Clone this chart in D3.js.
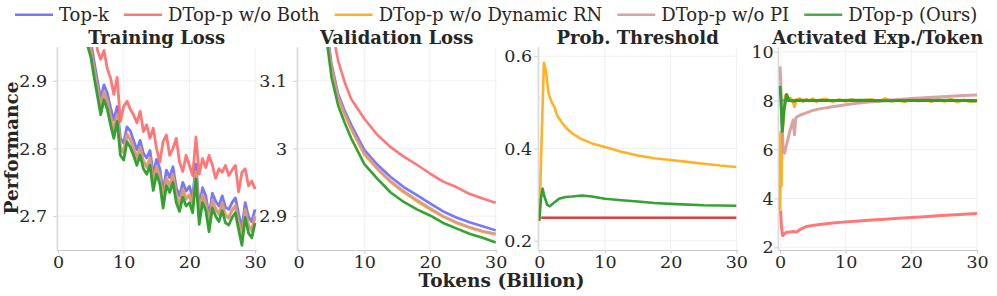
<!DOCTYPE html>
<html>
<head>
<meta charset="utf-8">
<script src="https://cdn.jsdelivr.net/npm/d3@7"></script>
<style>
  body { margin: 0; background: #fff; }
  text { font-family: "DejaVu Serif", serif; fill: #262626; }
</style>
</head>
<body>
<svg id="chart" width="997" height="296"></svg>
<script>
// series in legend order
const seriesNames = ['Top-k', 'DTop-p w/o Both', 'DTop-p w/o Dynamic RN', 'DTop-p w/o PI', 'DTop-p (Ours)'];
const seriesColors = ['#5f5fff', '#ff5f5f', '#ffa500', '#d49494', '#2a9d2a'];

// training loss (tokens in billions)
const trainX = [4.5,5,5.5,6,6.5,7,7.5,8,8.5,9,9.5,10,10.5,11,11.5,12,12.5,13,13.5,14,14.5,15,15.5,16,16.5,17,17.5,18,18.5,19,19.5,20,20.5,21,21.5,22,22.5,23,23.5,24,24.5,25,25.5,26,26.5,27,27.5,28,28.5,29,29.5,30];
const trainTopK = [2.975,2.958,2.928,2.900,2.874,2.894,2.882,2.860,2.842,2.862,2.815,2.808,2.832,2.826,2.812,2.798,2.812,2.793,2.786,2.797,2.762,2.784,2.770,2.736,2.768,2.757,2.773,2.742,2.730,2.750,2.737,2.744,2.728,2.777,2.712,2.742,2.730,2.700,2.734,2.722,2.715,2.730,2.713,2.710,2.720,2.727,2.703,2.682,2.720,2.699,2.692,2.710];
const trainNoBoth = [3.050,3.020,2.990,2.945,2.932,2.945,2.918,2.904,2.880,2.905,2.840,2.862,2.870,2.858,2.850,2.838,2.855,2.825,2.835,2.815,2.830,2.800,2.780,2.810,2.820,2.790,2.800,2.815,2.780,2.766,2.790,2.775,2.760,2.817,2.762,2.785,2.772,2.790,2.775,2.756,2.770,2.765,2.775,2.760,2.768,2.775,2.736,2.765,2.770,2.745,2.752,2.740];
const trainNoRN = [2.965,2.947,2.917,2.890,2.862,2.884,2.870,2.848,2.828,2.851,2.803,2.795,2.822,2.814,2.801,2.787,2.802,2.782,2.774,2.786,2.750,2.774,2.759,2.724,2.757,2.746,2.762,2.731,2.719,2.740,2.727,2.732,2.717,2.766,2.700,2.732,2.720,2.689,2.724,2.712,2.704,2.720,2.702,2.699,2.710,2.716,2.692,2.669,2.710,2.687,2.680,2.701];
const trainNoPI = [2.963,2.945,2.915,2.888,2.860,2.882,2.868,2.846,2.826,2.849,2.801,2.793,2.820,2.812,2.799,2.785,2.800,2.780,2.772,2.784,2.748,2.772,2.757,2.722,2.755,2.744,2.760,2.729,2.717,2.738,2.725,2.730,2.715,2.764,2.698,2.730,2.718,2.687,2.722,2.710,2.702,2.718,2.700,2.697,2.708,2.714,2.690,2.667,2.708,2.685,2.678,2.699];
const trainOurs = [2.952,2.935,2.905,2.878,2.850,2.872,2.858,2.835,2.815,2.840,2.790,2.783,2.810,2.802,2.790,2.775,2.790,2.770,2.762,2.775,2.738,2.762,2.748,2.712,2.745,2.735,2.750,2.720,2.707,2.728,2.715,2.720,2.705,2.755,2.688,2.720,2.708,2.677,2.712,2.700,2.692,2.708,2.690,2.687,2.698,2.705,2.680,2.657,2.698,2.675,2.668,2.690];

// validation loss
const valX = [4,5,6,7,8,10,12,14,16,18,20,22,24,26,28,30];
const valTopK = [3.200,3.125,3.081,3.056,3.035,2.998,2.976,2.958,2.943,2.931,2.919,2.907,2.898,2.891,2.885,2.879];
const valNoBoth = [3.260,3.180,3.130,3.098,3.073,3.044,3.020,3.002,2.988,2.976,2.963,2.951,2.943,2.933,2.926,2.920];
const valNoRN = [3.190,3.118,3.075,3.050,3.028,2.991,2.969,2.950,2.935,2.922,2.910,2.899,2.890,2.883,2.877,2.873];
const valNoPI = [3.192,3.120,3.077,3.052,3.030,2.993,2.971,2.952,2.937,2.924,2.912,2.900,2.891,2.884,2.878,2.874];
const valOurs = [3.180,3.105,3.064,3.038,3.015,2.977,2.955,2.935,2.921,2.910,2.901,2.890,2.882,2.874,2.868,2.861];

// probability threshold
const thrFixedX = [0.3, 30];
const thrNoBoth = [0.25, 0.25];
const thrNoPI = [0.25, 0.25];
const thrNoRNX = [0,0.7,1.0,1.4,1.9,2.3,2.7,3.5,4.2,5,6.2,8,10,12.5,15,17.5,20,22.5,25,27.5,30];
const thrNoRN = [0.245,0.586,0.570,0.520,0.500,0.490,0.472,0.455,0.443,0.433,0.422,0.411,0.403,0.393,0.385,0.379,0.375,0.371,0.367,0.363,0.360];
const thrOursX = [0,0.25,0.5,0.8,1.2,1.6,2.2,3,4,5,6.5,8,10,12.5,15,17.5,20,25,30];
const thrOurs = [0.243,0.290,0.313,0.295,0.278,0.275,0.282,0.291,0.295,0.296,0.298,0.296,0.291,0.288,0.285,0.282,0.280,0.277,0.276];

// activated experts per token
const actTopKX = [0, 30];
const actTopK = [8, 8];
const actNoBothX = [0.1,0.2,0.4,0.7,1,1.5,2,2.5,3,4,6,8,10,12,14,16,18,20,22,24,26,28,30];
const actNoBoth = [3.50,2.90,2.48,2.55,2.62,2.63,2.65,2.62,2.72,2.85,2.93,2.99,3.04,3.08,3.12,3.15,3.19,3.22,3.25,3.29,3.32,3.35,3.38];
const actNoRNX = [0,0.1,0.2,0.3,0.5,0.8,1,1.3,1.6,2,2.2,2.5,3,3.5,4,4.5,5,5.5,6,7,8,9,10,11,12,13,14,15,16,17,18,19,20,21,22,23,24,25,26,27,28,29,30];
const actNoRN = [3.5,6.7,4.5,6.5,7.2,8.2,8.15,8.05,8.1,7.95,7.75,8.05,8.08,7.95,8.05,7.98,8.08,7.95,8.02,8.06,7.96,8.04,7.97,8.05,7.95,8.02,8.04,7.96,8.08,7.97,8.03,7.95,8.05,7.98,8.04,7.96,8.03,7.97,8.05,7.95,8.02,7.96,7.98];
const actNoPIX = [0,0.1,0.3,0.5,0.7,1,1.5,2,2.2,2.4,3,4,5,6,8,10,12,14,16,18,20,22,24,26,28,30];
const actNoPI = [9.4,8.8,7.0,5.9,5.85,6.2,6.75,7.2,6.6,7.3,7.4,7.5,7.6,7.66,7.75,7.83,7.9,7.95,8.0,8.04,8.08,8.11,8.15,8.18,8.21,8.23];
const actOursX = [0,0.15,0.35,0.6,1.0,1.4,2,3,5,8,12,16,20,25,30];
const actOurs = [8.6,8.0,6.75,7.6,8.25,8.0,7.98,8.01,8.0,8.0,8.01,7.99,8.0,8.01,7.99];

const xTicks = [0, 10, 20, 30];

const panels = [
  { title: 'Training Loss', xDomain: [-0.2, 30.25], yDomain: [2.65, 2.95], yTicks: [2.7, 2.8, 2.9], fmt: d3.format('.1f'), pad: 6,
    series: [[0, trainX, trainTopK], [1, trainX, trainNoBoth], [2, trainX, trainNoRN], [3, trainX, trainNoPI], [4, trainX, trainOurs]] },
  { title: 'Validation Loss', xDomain: [-0.3, 30.15], yDomain: [2.85, 3.15], yTicks: [2.9, 3.0, 3.1], fmt: d => d === 3 ? '3' : d3.format('.1f')(d), pad: 6,
    series: [[0, valX, valTopK], [1, valX, valNoBoth], [2, valX, valNoRN], [3, valX, valNoPI], [4, valX, valOurs]] },
  { title: 'Prob. Threshold', xDomain: [-0.24, 30.21], yDomain: [0.18, 0.62], yTicks: [0.2, 0.4, 0.6], fmt: d3.format('.1f'), pad: 2,
    series: [[1, thrFixedX, thrNoBoth], [3, thrFixedX, thrNoPI, 'multiply'], [2, thrNoRNX, thrNoRN], [4, thrOursX, thrOurs]] },
  { title: 'Activated Exp./Token', xDomain: [-0.35, 30.1], yDomain: [1.89, 10.19], yTicks: [2, 4, 6, 8, 10], fmt: d3.format('d'), pad: 0.5,
    series: [[0, actTopKX, actTopK], [1, actNoBothX, actNoBoth], [2, actNoRNX, actNoRN], [3, actNoPIX, actNoPI], [4, actOursX, actOurs]] }
];

const plotTop = 47, plotBottom = 250, plotW = 200;
const panelLeft = [56.7, 296.7, 537.7, 777.7];
const svg = d3.select('#chart');
const defs = svg.append('defs');

panels.forEach((p, i) => {
  const x = d3.scaleLinear().domain(p.xDomain).range([panelLeft[i], panelLeft[i] + plotW]);
  const y = d3.scaleLinear().domain(p.yDomain).range([plotBottom, plotTop]);
  const g = svg.append('g');

  // grid
  g.selectAll('line.gx').data(xTicks).join('line').attr('class', 'gx')
    .attr('x1', d => x(d)).attr('x2', d => x(d)).attr('y1', plotTop).attr('y2', plotBottom)
    .attr('stroke', '#f0f0f0').attr('stroke-width', 1);
  g.selectAll('line.gy').data(p.yTicks).join('line').attr('class', 'gy')
    .attr('x1', panelLeft[i]).attr('x2', panelLeft[i] + plotW).attr('y1', d => y(d)).attr('y2', d => y(d))
    .attr('stroke', '#f0f0f0').attr('stroke-width', 1);

  defs.append('clipPath').attr('id', 'clip' + i).append('rect')
    .attr('x', panelLeft[i]).attr('y', plotTop).attr('width', plotW).attr('height', plotBottom - plotTop);

  const line = d3.line().x(d => x(d[0])).y(d => y(d[1]));
  const lg = g.append('g').attr('clip-path', `url(#clip${i})`);
  p.series.forEach(([s, xs, ys, blend]) => {
    const path = lg.append('path')
      .datum(xs.map((v, k) => [v, ys[k]]))
      .attr('d', line)
      .attr('fill', 'none')
      .attr('stroke', seriesColors[s])
      .attr('stroke-width', i === 3 ? 3 : (i === 0 ? 2.8 : 2.6))
      .attr('stroke-linejoin', 'round')
      .attr('opacity', s === 4 ? 0.95 : 0.85);
    if (blend) path.style('mix-blend-mode', blend).attr('opacity', 1);
  });

  // axes
  const xa = g.append('g').attr('transform', `translate(0,${plotBottom})`)
    .call(d3.axisBottom(x).tickValues(xTicks).tickSize(3.5).tickSizeOuter(0).tickPadding(2).tickFormat(d3.format('d')));
  const ya = g.append('g').attr('transform', `translate(${panelLeft[i]},0)`)
    .call(d3.axisLeft(y).tickValues(p.yTicks).tickSize(3.5).tickSizeOuter(0).tickPadding(p.pad).tickFormat(p.fmt));
  [xa, ya].forEach(a => {
    a.select('.domain').attr('stroke', '#cccccc');
    a.selectAll('.tick line').attr('stroke', '#cccccc');
    a.selectAll('.tick text').style('font-family', '"DejaVu Serif", serif').style('font-size', '17.5px').attr('fill', '#262626');
  });

  g.append('text')
    .attr('x', panelLeft[i] + plotW / 2).attr('y', 44)
    .attr('text-anchor', 'middle')
    .style('font-size', '18px').style('font-weight', 'bold')
    .text(p.title);
});

// axis labels
svg.append('text').attr('transform', 'translate(18,148) rotate(-90)')
  .attr('text-anchor', 'middle').style('font-size', '18.5px').style('font-weight', 'bold').text('Performance');
svg.append('text').attr('x', 501.5).attr('y', 287)
  .attr('text-anchor', 'middle').style('font-size', '18.5px').style('font-weight', 'bold').text('Tokens (Billion)');

// legend
let lx = 15;
const legend = svg.append('g');
seriesNames.forEach((name, s) => {
  legend.append('line').attr('x1', lx).attr('x2', lx + 38).attr('y1', 14.7).attr('y2', 14.7)
    .attr('stroke', seriesColors[s]).attr('stroke-width', 2.6).attr('opacity', 0.85);
  const t = legend.append('text').attr('x', lx + 44).attr('y', 21).style('font-size', '18px').text(name);
  lx += 44 + t.node().getComputedTextLength() + 15;
});
</script>
</body>
</html>
